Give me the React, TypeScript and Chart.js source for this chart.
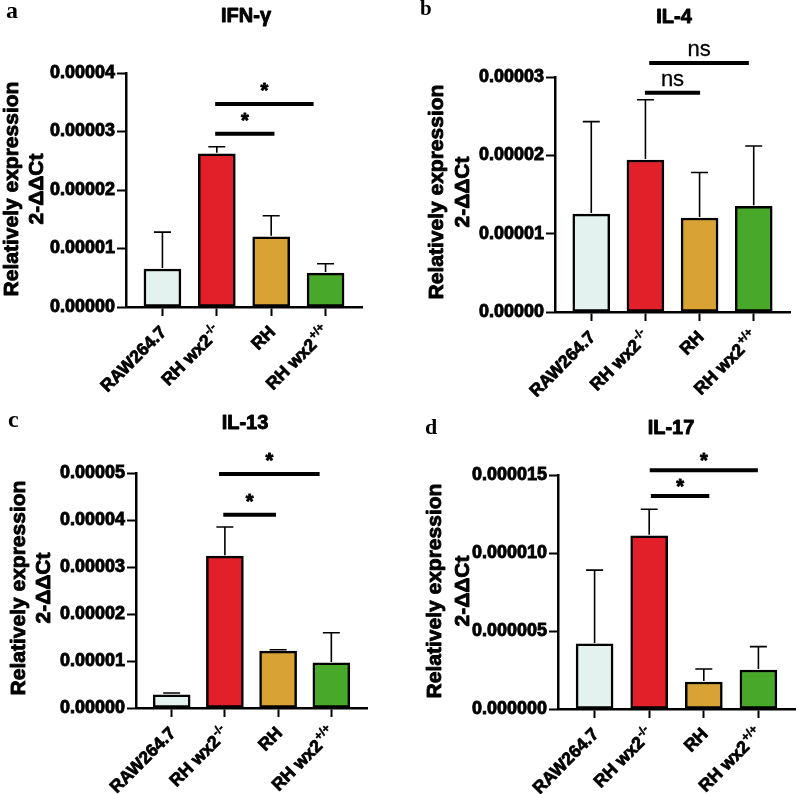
import React, { useEffect, useRef } from "react";
import { Chart, registerables } from "chart.js";

Chart.register(...registerables);

const FONT = "'Liberation Sans', Arial, Helvetica, sans-serif";
const SERIF = "'Liberation Serif', 'Times New Roman', serif";

// ---------- data ----------
const categories = ["RAW264.7", "RH wx2", "RH", "RH wx2"];
const categorySup = ["", "-/-", "", "+/+"];
const barColors = ["#e3f2ee", "#e2202a", "#d9a234", "#47a82a"];
const yAxisTitle = ["Relatively expression", "2-ΔΔCt"];

// a: IFN-γ
const ifnMean = [0.0000065, 0.0000262, 0.000012, 0.0000058];
const ifnSd = [0.0000063, 0.0000012, 0.0000036, 0.0000016];
const ifnTicks = [0, 0.00001, 0.00002, 0.00003, 0.00004];
const ifnSigFrom = [0.97, 0.97];
const ifnSigTo = [2.06, 2.78];
const ifnSigY = [0.0000296, 0.0000347];
const ifnSigText = ["*", "*"];

// b: IL-4
const il4Mean = [0.0000125, 0.0000194, 0.000012, 0.0000135];
const il4Sd = [0.0000118, 0.0000077, 0.0000058, 0.0000077];
const il4Ticks = [0, 0.00001, 0.00002, 0.00003];
const il4SigFrom = [0.99, 1.07];
const il4SigTo = [2.01, 2.91];
const il4SigY = [0.000028, 0.0000318];
const il4SigText = ["ns", "ns"];

// c: IL-13
const il13Mean = [0.0000028, 0.0000323, 0.0000121, 0.0000096];
const il13Sd = [0.0000004, 0.0000062, 0.0000003, 0.0000064];
const il13Ticks = [0, 0.00001, 0.00002, 0.00003, 0.00004, 0.00005];
const il13SigFrom = [0.97, 0.89];
const il13SigTo = [1.96, 2.78];
const il13SigY = [0.0000411, 0.0000498];
const il13SigText = ["*", "*"];

// d: IL-17
const il17Mean = [0.00000417, 0.0000111, 0.00000173, 0.0000025];
const il17Sd = [0.00000473, 0.0000017, 0.00000083, 0.0000015];
const il17Ticks = [0, 0.000005, 0.00001, 0.000015];
const il17SigFrom = [1.03, 1.01];
const il17SigTo = [2.1, 2.99];
const il17SigY = [0.00001365, 0.0000153];
const il17SigText = ["*", "*"];

const X_MIN = -0.67;
const X_MAX = 3.67;
const W = 398;
const H = 397;
const HEAVY = 0.9;

type Panel = {
  key: string;
  pageX: number;
  pageY: number;
  letter: string;
  letterX: number;
  letterY: number;
  letterSize: number;
  title: string;
  titleX: number;
  titleY: number;
  mean: number[];
  sd: number[];
  yTicks: number[];
  decimals: number;
  sigFrom: number[];
  sigTo: number[];
  sigY: number[];
  sigText: string[];
  sigGap: number;
  area: { l: number; r: number; t: number; b: number };
  yt1: number;
  yt2: number;
  ytY: number;
};

const panels: Panel[] = [
  {
    key: "a", pageX: 0, pageY: 0, letter: "a", letterX: 6, letterY: 18, letterSize: 24,
    title: "IFN-γ", titleX: 246, titleY: 22,
    mean: ifnMean, sd: ifnSd, yTicks: ifnTicks, decimals: 5,
    sigFrom: ifnSigFrom, sigTo: ifnSigTo, sigY: ifnSigY, sigText: ifnSigText, sigGap: 7,
    area: { l: 126, r: 362, t: 73, b: 307 }, yt1: 18, yt2: 43, ytY: 189,
  },
  {
    key: "b", pageX: 398, pageY: 0, letter: "b", letterX: 22, letterY: 15, letterSize: 21,
    title: "IL-4", titleX: 276, titleY: 23,
    mean: il4Mean, sd: il4Sd, yTicks: il4Ticks, decimals: 5,
    sigFrom: il4SigFrom, sigTo: il4SigTo, sigY: il4SigY, sigText: il4SigText, sigGap: 7,
    area: { l: 157, r: 392, t: 77, b: 312 }, yt1: 45, yt2: 71, ytY: 192,
  },
  {
    key: "c", pageX: 0, pageY: 397, letter: "c", letterX: 8, letterY: 30, letterSize: 24,
    title: "IL-13", titleX: 245, titleY: 32,
    mean: il13Mean, sd: il13Sd, yTicks: il13Ticks, decimals: 5,
    sigFrom: il13SigFrom, sigTo: il13SigTo, sigY: il13SigY, sigText: il13SigText, sigGap: 7,
    area: { l: 136, r: 367, t: 76, b: 311 }, yt1: 25, yt2: 50, ytY: 191,
  },
  {
    key: "d", pageX: 398, pageY: 397, letter: "d", letterX: 27, letterY: 37, letterSize: 22,
    title: "IL-17", titleX: 273, titleY: 37,
    mean: il17Mean, sd: il17Sd, yTicks: il17Ticks, decimals: 6,
    sigFrom: il17SigFrom, sigTo: il17SigTo, sigY: il17SigY, sigText: il17SigText, sigGap: 3,
    area: { l: 160, r: 397, t: 78, b: 312 }, yt1: 43, yt2: 71, ytY: 194,
  },
];

function heavyText(ctx: any, t: string, x: number, y: number, w = HEAVY) {
  ctx.fillText(t, x, y);
  if (w > 0) {
    ctx.lineWidth = w;
    ctx.lineJoin = "round";
    ctx.strokeText(t, x, y);
  }
}

function PanelChart({ p }: { p: Panel }) {
  const ref = useRef<HTMLCanvasElement>(null);
  useEffect(() => {
    const canvas = ref.current!;
    const decor = {
      id: "decor" + p.key,
      afterDatasetsDraw(chart: any) {
        const ctx = chart.ctx;
        const xs = chart.scales.x;
        const ys = chart.scales.y;
        ctx.save();
        ctx.strokeStyle = "#000";
        ctx.lineWidth = 1.6;
        p.mean.forEach((m, i) => {
          const x = xs.getPixelForValue(i);
          const y0 = ys.getPixelForValue(m);
          const y1 = ys.getPixelForValue(m + p.sd[i]);
          ctx.beginPath();
          ctx.moveTo(x, y0 - 1);
          ctx.lineTo(x, y1);
          ctx.moveTo(x - 8.5, y1);
          ctx.lineTo(x + 8.5, y1);
          ctx.stroke();
        });
        ctx.restore();
      },
      afterDraw(chart: any) {
        const ctx = chart.ctx;
        const xs = chart.scales.x;
        const ys = chart.scales.y;
        const ca = chart.chartArea;
        ctx.save();
        ctx.fillStyle = "#000";
        ctx.strokeStyle = "#000";
        // significance brackets
        p.sigY.forEach((v, i) => {
          const y = ys.getPixelForValue(v);
          const x0 = xs.getPixelForValue(p.sigFrom[i]);
          const x1 = xs.getPixelForValue(p.sigTo[i]);
          ctx.lineWidth = 4;
          ctx.beginPath();
          ctx.moveTo(x0, y);
          ctx.lineTo(x1, y);
          ctx.stroke();
          const t = p.sigText[i];
          ctx.textAlign = "center";
          ctx.textBaseline = "alphabetic";
          if (t === "*") {
            ctx.font = `bold 20px ${FONT}`;
            heavyText(ctx, t, (x0 + x1) / 2, y - p.sigGap);
          } else {
            ctx.font = `22px ${FONT}`;
            heavyText(ctx, t, (x0 + x1) / 2, y - p.sigGap, 0.3);
          }
        });
        // category labels, rotated, with superscripts
        categories.forEach((c, i) => {
          const x = xs.getPixelForValue(i);
          ctx.save();
          ctx.translate(x + 5, ca.bottom + 26);
          ctx.rotate(-Math.PI / 4);
          ctx.textBaseline = "alphabetic";
          ctx.textAlign = "left";
          ctx.font = `bold 17.5px ${FONT}`;
          const wm = ctx.measureText(c).width;
          const sup = categorySup[i];
          let ws = 0;
          if (sup) {
            ctx.font = `bold 12px ${FONT}`;
            ws = ctx.measureText(sup).width + 1;
          }
          ctx.font = `bold 17.5px ${FONT}`;
          heavyText(ctx, c, -(wm + ws), 0, 0.8);
          if (sup) {
            ctx.font = `bold 12px ${FONT}`;
            heavyText(ctx, sup, -ws + 1, -7.5, 0.5);
          }
          ctx.restore();
        });
        // y axis title (two lines)
        ctx.font = `bold 21px ${FONT}`;
        ctx.textAlign = "center";
        ctx.textBaseline = "alphabetic";
        [p.yt1, p.yt2].forEach((bx, i) => {
          ctx.save();
          ctx.translate(bx, p.ytY);
          ctx.rotate(-Math.PI / 2);
          heavyText(ctx, yAxisTitle[i], 0, 0);
          ctx.restore();
        });
        // chart title
        ctx.font = `bold 20px ${FONT}`;
        ctx.textAlign = "center";
        heavyText(ctx, p.title, p.titleX, p.titleY);
        // panel letter
        ctx.font = `bold ${p.letterSize}px ${SERIF}`;
        ctx.textAlign = "left";
        ctx.fillText(p.letter, p.letterX, p.letterY);
        ctx.restore();
      },
    };

    const chart = new Chart(canvas, {
      type: "bar",
      data: {
        datasets: [
          {
            data: p.mean.map((m, i) => ({ x: i, y: m })),
            backgroundColor: barColors,
            borderColor: "#000",
            borderWidth: 2.5,
            borderSkipped: false,
            barThickness: 37,
          } as any,
        ],
      },
      options: {
        responsive: false,
        animation: false,
        devicePixelRatio: 1,
        layout: { padding: { left: 0, top: p.area.t, right: W - p.area.r, bottom: 0 } },
        plugins: {
          legend: { display: false },
          tooltip: { enabled: false },
          title: { display: false },
        },
        scales: {
          x: {
            type: "linear",
            min: X_MIN,
            max: X_MAX,
            offset: false,
            afterFit: (s: any) => {
              s.height = H - p.area.b;
            },
            afterBuildTicks: (s: any) => {
              s.ticks = categories.map((_, i) => ({ value: i }));
            },
            ticks: { display: false, autoSkip: false },
            grid: {
              display: true,
              drawOnChartArea: false,
              drawTicks: true,
              tickLength: 9,
              tickWidth: 2,
              tickColor: "#000",
              offset: false,
            },
            border: { display: true, color: "#000", width: 2.5 },
          },
          y: {
            type: "linear",
            min: 0,
            max: p.yTicks[p.yTicks.length - 1],
            afterFit: (s: any) => {
              s.width = p.area.l;
            },
            afterBuildTicks: (s: any) => {
              s.ticks = p.yTicks.map((v) => ({ value: v }));
            },
            ticks: {
              autoSkip: false,
              padding: 2,
              color: "#000",
              textStrokeColor: "#000",
              textStrokeWidth: HEAVY,
              font: { family: FONT, size: 18, weight: "bold" },
              callback: (v: any) => Number(v).toFixed(p.decimals),
            },
            grid: {
              display: true,
              drawOnChartArea: false,
              drawTicks: true,
              tickLength: 9,
              tickWidth: 2,
              tickColor: "#000",
            },
            border: { display: true, color: "#000", width: 2.5 },
          },
        },
      } as any,
      plugins: [decor],
    });
    return () => chart.destroy();
  }, [p]);
  return (
    <canvas
      ref={ref}
      width={W}
      height={H}
      style={{ position: "absolute", left: p.pageX, top: p.pageY, width: W, height: H, display: "block" }}
    />
  );
}

export default function App() {
  return (
    <div style={{ position: "absolute", left: 0, top: 0, width: 796, height: 794, background: "#fff" }}>
      {panels.map((p) => (
        <PanelChart key={p.key} p={p} />
      ))}
    </div>
  );
}
